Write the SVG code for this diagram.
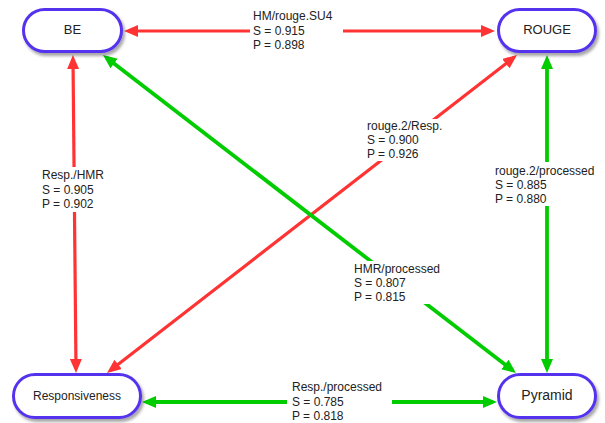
<svg xmlns="http://www.w3.org/2000/svg" width="605" height="423" viewBox="0 0 605 423">
<style>
.node rect{fill:#fff;stroke:#5533ee;stroke-width:3;filter:url(#sh)}
.node text{font-family:"Liberation Sans",Arial,sans-serif;fill:#222;text-anchor:middle}
.red{stroke:#ff3333;stroke-width:3.2;fill:none}
.green{stroke:#00cc00;stroke-width:3.8;fill:none}
.lbl{font-family:"Liberation Sans",Arial,sans-serif;font-size:12px;fill:#222}
.bg{fill:#fff}
</style>
<defs>
<filter id="sh" x="-20%" y="-30%" width="140%" height="170%">
<feDropShadow dx="2" dy="3" stdDeviation="1.5" flood-color="#000" flood-opacity="0.35"/>
</filter>
<marker id="ar" markerUnits="userSpaceOnUse" markerWidth="16" markerHeight="14" refX="10" refY="6" orient="auto-start-reverse">
<path d="M0,0 L14,6 L0,12 z" fill="#ff3333"/>
</marker>
<marker id="ag" markerUnits="userSpaceOnUse" markerWidth="16" markerHeight="14" refX="10" refY="6" orient="auto-start-reverse">
<path d="M0,0 L14,6 L0,12 z" fill="#00cc00"/>
</marker>
</defs>
<g id="connectors">
<line class="red" x1="128" y1="31" x2="491" y2="31" marker-start="url(#ar)" marker-end="url(#ar)"/>
<line class="red" x1="73" y1="59" x2="76" y2="369" marker-start="url(#ar)" marker-end="url(#ar)"/>
<line class="red" x1="513.8" y1="57.5" x2="110.2" y2="370.5" marker-start="url(#ar)" marker-end="url(#ar)"/>
<line class="green" x1="106.2" y1="57.4" x2="512.8" y2="370.6" marker-start="url(#ag)" marker-end="url(#ag)"/>
<line class="green" x1="547" y1="59" x2="547" y2="369" marker-start="url(#ag)" marker-end="url(#ag)"/>
<line class="green" x1="146" y1="402" x2="493" y2="402" marker-start="url(#ag)" marker-end="url(#ag)"/>
<g id="labels">
<rect class="bg" x="250" y="10" width="93" height="44"/>
<text class="lbl" x="253" y="20">HM/rouge.SU4</text>
<text class="lbl" x="253" y="34.5">S = 0.915</text>
<text class="lbl" x="253" y="49">P = 0.898</text>
<rect class="bg" x="39" y="167" width="70" height="45"/>
<text class="lbl" x="42" y="179">Resp./HMR</text>
<text class="lbl" x="42" y="194">S = 0.905</text>
<text class="lbl" x="42" y="208">P = 0.902</text>
<rect class="bg" x="364" y="119" width="81" height="42"/>
<text class="lbl" x="367" y="130">rouge.2/Resp.</text>
<text class="lbl" x="367" y="144">S = 0.900</text>
<text class="lbl" x="367" y="158">P = 0.926</text>
<rect class="bg" x="492" y="162" width="106" height="44"/>
<text class="lbl" x="495" y="175">rouge.2/processed</text>
<text class="lbl" x="495" y="189">S = 0.885</text>
<text class="lbl" x="495" y="203">P = 0.880</text>
<rect class="bg" x="351" y="261" width="92" height="43"/>
<text class="lbl" x="354" y="273">HMR/processed</text>
<text class="lbl" x="354" y="287">S = 0.807</text>
<text class="lbl" x="354" y="301">P = 0.815</text>
<rect class="bg" x="287" y="380" width="105" height="43"/>
<text class="lbl" x="292" y="391">Resp./processed</text>
<text class="lbl" x="292" y="405.5">S = 0.785</text>
<text class="lbl" x="292" y="420">P = 0.818</text>
</g>
</g>
<g id="BE" class="node"><rect x="23.5" y="9.5" width="98" height="42" rx="21"/><text x="72.5" y="34" font-size="13">BE</text></g>
<g id="ROUGE" class="node"><rect x="498.5" y="9.5" width="97" height="42" rx="21"/><text x="547" y="34" font-size="13">ROUGE</text></g>
<g id="Responsiveness" class="node"><rect x="13.5" y="374.5" width="127" height="43" rx="21.5"/><text x="77" y="400" font-size="12">Responsiveness</text></g>
<g id="Pyramid" class="node"><rect x="498.5" y="374.5" width="97" height="43" rx="21.5"/><text x="547" y="400" font-size="14">Pyramid</text></g>
</svg>
